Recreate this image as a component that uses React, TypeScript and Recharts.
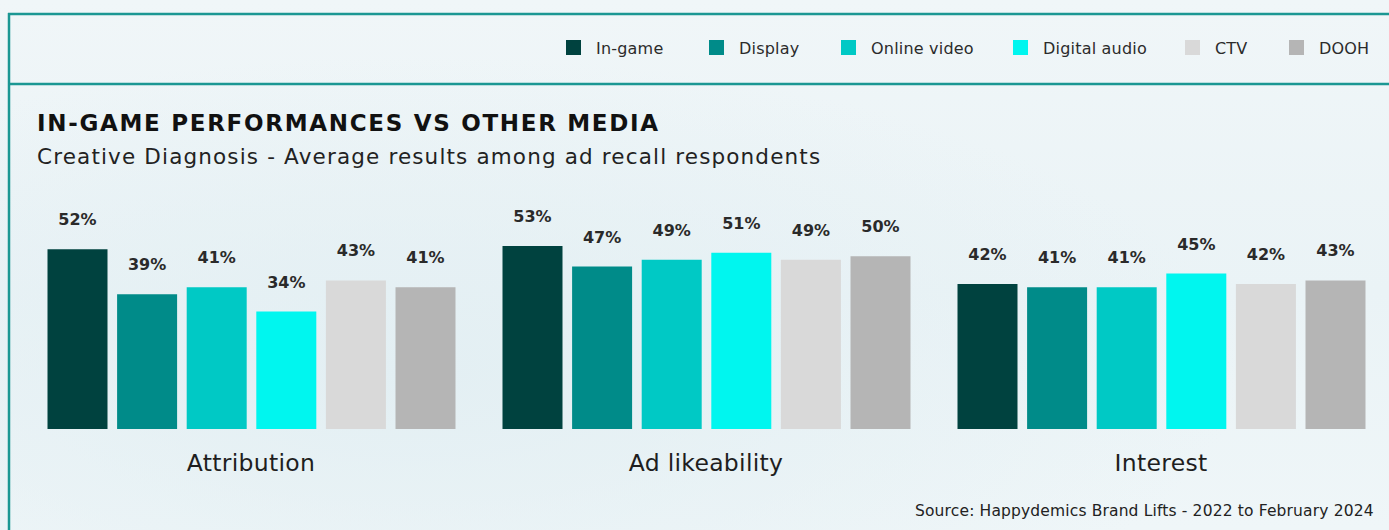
import React from "react";
import { BarChart, Bar, XAxis, YAxis, LabelList, Legend } from "recharts";

const categories = ["Attribution", "Ad likeability", "Interest"];
const seriesNames = ["In-game", "Display", "Online video", "Digital audio", "CTV", "DOOH"];
const inGame = [52, 53, 42];
const display = [39, 47, 41];
const onlineVideo = [41, 49, 41];
const digitalAudio = [34, 51, 45];
const ctv = [43, 49, 42];
const dooh = [41, 50, 43];
const seriesColors = ["#00423f", "#008b89", "#00c9c5", "#00f6ef", "#d9d9d9", "#b5b5b5"];
const legendX = [566, 709, 841, 1013, 1185, 1289];

const seriesValues = [inGame, display, onlineVideo, digitalAudio, ctv, dooh];
const data = categories.map((c, i) => {
  const row: Record<string, string | number> = { category: c };
  seriesNames.forEach((s, j) => {
    row[s] = seriesValues[j][i];
  });
  return row;
});

const FONT = "'DejaVu Sans', sans-serif";
const BORDER = "#1b9793";

const CategoryTick = (props: any) => {
  const { x, y, payload } = props;
  return (
    <text
      x={x}
      y={y + 42}
      textAnchor="middle"
      fontFamily={FONT}
      fontSize={23.5}
      letterSpacing={0.3}
      fill="#1e1e1e"
    >
      {payload.value}
    </text>
  );
};

const LegendContent = () => (
  <div style={{ position: "relative", width: 1389, height: 30 }}>
    {seriesNames.map((s, i) => (
      <div key={s}>
        <div
          style={{
            position: "absolute",
            left: legendX[i],
            top: 0,
            width: 15,
            height: 15,
            background: seriesColors[i],
          }}
        />
        <div
          style={{
            position: "absolute",
            left: legendX[i] + 30,
            top: -1,
            fontFamily: FONT,
            fontSize: 16,
            lineHeight: "20px",
            letterSpacing: 0.2,
            color: "#2b2b2b",
            whiteSpace: "nowrap",
          }}
        >
          {s}
        </div>
      </div>
    ))}
  </div>
);

export default function App() {
  return (
    <div
      style={{
        position: "fixed",
        left: 0,
        top: 0,
        width: 1389,
        height: 530,
        overflow: "hidden",
        background:
          "radial-gradient(ellipse at 30% 70%, #e3eff3 0%, rgba(227,239,243,0) 60%), linear-gradient(180deg, #f0f6f8 0%, #eaf3f6 55%, #eff6f8 100%)",
      }}
    >
      <svg width={1389} height={530} style={{ position: "absolute", left: 0, top: 0 }}>
        <line x1={8} y1={14} x2={1389} y2={14} stroke={BORDER} strokeWidth={2.5} />
        <line x1={9} y1={13} x2={9} y2={530} stroke={BORDER} strokeWidth={2.5} />
        <line x1={8} y1={84} x2={1389} y2={84} stroke={BORDER} strokeWidth={2.5} />
        <text x={37} y={131} fontFamily={FONT} fontWeight={700} fontSize={23} letterSpacing={1.7} fill="#111">
          IN-GAME PERFORMANCES VS OTHER MEDIA
        </text>
        <text x={37} y={164} fontFamily={FONT} fontSize={21.5} letterSpacing={1.15} fill="#222">
          Creative Diagnosis - Average results among ad recall respondents
        </text>
        <text x={915} y={516} fontFamily={FONT} fontSize={15.5} letterSpacing={0.15} fill="#222">
          Source: Happydemics Brand Lifts - 2022 to February 2024
        </text>
      </svg>
      <div style={{ position: "absolute", left: 0, top: 0 }}>
        <BarChart
          width={1389}
          height={530}
          data={data}
          margin={{ top: 221.7, right: 0.5, left: 23.5, bottom: 41 }}
          barSize={60}
          barGap={9.6}
        >
          <XAxis
            dataKey="category"
            axisLine={false}
            tickLine={false}
            tickSize={0}
            tickMargin={0}
            height={60}
            interval={0}
            tick={<CategoryTick />}
          />
          <YAxis hide domain={[0, 60]} />
          <Legend
            layout="vertical"
            align="center"
            verticalAlign="middle"
            wrapperStyle={{ position: "absolute", left: 0, top: 40, width: 1389, height: 30 }}
            content={<LegendContent />}
          />
          {seriesNames.map((s, i) => (
            <Bar key={s} dataKey={s} fill={seriesColors[i]} isAnimationActive={false}>
              <LabelList
                dataKey={s}
                position="top"
                offset={24}
                formatter={(v: any) => `${v}%`}
                style={{ fontFamily: FONT, fontSize: 16, fontWeight: 700, fill: "#2a2a2a" }}
              />
            </Bar>
          ))}
        </BarChart>
      </div>
    </div>
  );
}
